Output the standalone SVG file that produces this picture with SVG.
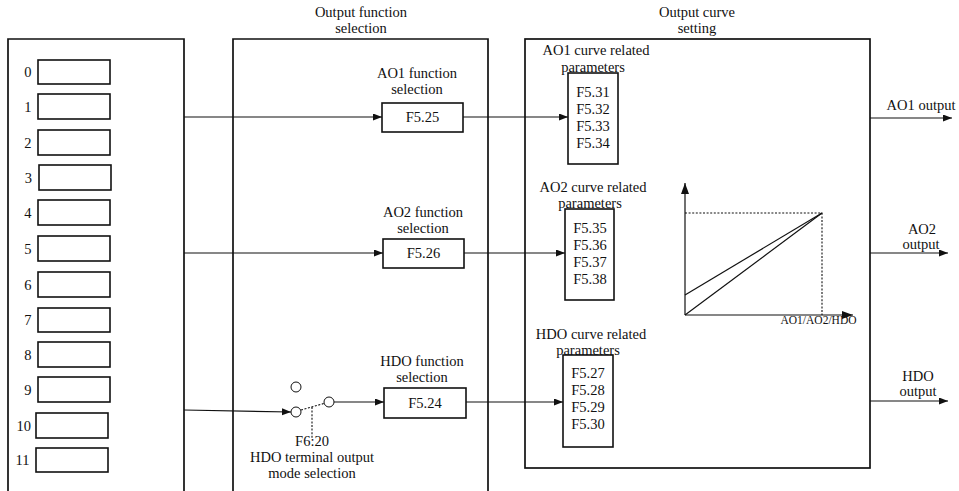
<svg xmlns="http://www.w3.org/2000/svg" width="959" height="491" viewBox="0 0 959 491" font-family="'Liberation Serif', 'DejaVu Serif', serif">
<defs>
<style>
text{font-family:'Liberation Serif','DejaVu Serif',serif;font-size:14.5px;fill:#111}
.c{text-anchor:middle}
.e{text-anchor:end}
.blk{fill:none;stroke:#111;stroke-width:1.7}
.box{fill:#fff;stroke:#111;stroke-width:1.6}
.ln{fill:none;stroke:#111;stroke-width:1.2}
.dot{fill:none;stroke:#111;stroke-width:1.1;stroke-dasharray:2 1.6}
.sw{fill:#fff;stroke:#111;stroke-width:1}
.sm{font-size:11.5px}
</style>
<marker id="ah" markerUnits="userSpaceOnUse" markerWidth="10" markerHeight="8" refX="9" refY="3.5" orient="auto">
<path d="M0,0 L9,3.5 L0,7 z" fill="#111"/>
</marker>
<marker id="ahb" markerUnits="userSpaceOnUse" markerWidth="12" markerHeight="9" refX="11" refY="4" orient="auto">
<path d="M0,0 L11,4 L0,8 z" fill="#111"/>
</marker>
</defs>
<rect width="959" height="491" fill="#fff"/>

<g id="headers">
<text class="c" x="361" y="17">Output function</text>
<text class="c" x="361" y="33">selection</text>
<text class="c" x="697" y="17">Output curve</text>
<text class="c" x="697" y="33">setting</text>
</g>

<g id="sources">
<path class="blk" d="M8,495 V39 H184 V495"/>
<rect class="box" x="38" y="60" width="72" height="24"/><text class="e" x="31.5" y="77">0</text>
<rect class="box" x="38" y="94" width="72" height="25"/><text class="e" x="31.5" y="111.5">1</text>
<rect class="box" x="38" y="130" width="72" height="25"/><text class="e" x="31.5" y="147.5">2</text>
<rect class="box" x="39" y="165" width="72" height="25"/><text class="e" x="32" y="182.5">3</text>
<rect class="box" x="38" y="200" width="72" height="25"/><text class="e" x="31.5" y="217.5">4</text>
<rect class="box" x="38" y="236" width="72" height="25"/><text class="e" x="31.5" y="253.5">5</text>
<rect class="box" x="38" y="272" width="72" height="25"/><text class="e" x="31.5" y="289.5">6</text>
<rect class="box" x="38" y="308" width="72" height="24"/><text class="e" x="31.5" y="325">7</text>
<rect class="box" x="38" y="342" width="72" height="25"/><text class="e" x="31.5" y="359.5">8</text>
<rect class="box" x="38" y="377" width="72" height="25"/><text class="e" x="31.5" y="394.5">9</text>
<rect class="box" x="36" y="413" width="72" height="25"/><text class="e" x="31" y="430.5">10</text>
<rect class="box" x="36" y="448" width="72" height="24"/><text class="e" x="29.5" y="465">11</text>
</g>

<g id="function-selection">
<path class="blk" d="M233,495 V39 H488 V495"/>
</g>

<g id="curve-setting">
<rect class="blk" x="525" y="39" width="345" height="429"/>
</g>

<g id="connectors">
<line class="ln" x1="184" y1="117" x2="382" y2="117" marker-end="url(#ah)"/>
<line class="ln" x1="463" y1="117" x2="568" y2="117" marker-end="url(#ah)"/>
<line class="ln" x1="184" y1="253" x2="383" y2="253" marker-end="url(#ah)"/>
<line class="ln" x1="464" y1="253" x2="565" y2="253" marker-end="url(#ah)"/>
<line class="ln" x1="184" y1="410" x2="291" y2="412" marker-end="url(#ah)"/>
<line class="ln" x1="334" y1="402" x2="384" y2="402" marker-end="url(#ah)"/>
<line class="ln" x1="466" y1="402" x2="563" y2="402" marker-end="url(#ah)"/>
<line class="ln" x1="870" y1="118" x2="952" y2="118" marker-end="url(#ah)"/>
<line class="ln" x1="870" y1="253" x2="948" y2="253" marker-end="url(#ah)"/>
<line class="ln" x1="870" y1="401" x2="948" y2="401" marker-end="url(#ah)"/>
</g>

<g id="ao1-func">
<text class="c" x="417" y="78">AO1 function</text>
<text class="c" x="417" y="94">selection</text>
<rect class="box" x="382" y="103" width="81" height="29"/>
<text class="c" x="422.5" y="122">F5.25</text>
</g>

<g id="ao2-func">
<text class="c" x="423" y="217">AO2 function</text>
<text class="c" x="423" y="233">selection</text>
<rect class="box" x="383" y="239" width="81" height="29"/>
<text class="c" x="423.5" y="258">F5.26</text>
</g>

<g id="hdo-func">
<text class="c" x="422" y="366">HDO function</text>
<text class="c" x="422" y="382">selection</text>
<rect class="box" x="384" y="388" width="82" height="30"/>
<text class="c" x="425" y="408">F5.24</text>
</g>

<g id="hdo-switch">
<circle class="sw" cx="296" cy="387" r="5"/>
<circle class="sw" cx="296" cy="412" r="5"/>
<circle class="sw" cx="329" cy="402" r="5"/>
<line class="dot" x1="301" y1="410" x2="324" y2="403.5"/>
<line class="dot" x1="312" y1="407" x2="312" y2="439"/>
<text class="c" x="312" y="446">F6:20</text>
<text class="c" x="312" y="462">HDO terminal output</text>
<text class="c" x="312" y="478">mode selection</text>
</g>

<g id="ao1-curve">
<text class="c" x="596" y="55">AO1 curve related</text>
<rect class="box" x="568" y="73" width="50" height="91"/>
<text class="c" x="593" y="72">parameters</text>
<text class="c" x="593" y="97">F5.31</text>
<text class="c" x="593" y="114">F5.32</text>
<text class="c" x="593" y="131">F5.33</text>
<text class="c" x="593" y="148">F5.34</text>
</g>

<g id="ao2-curve">
<text class="c" x="593" y="192">AO2 curve related</text>
<rect class="box" x="565" y="209" width="49" height="91"/>
<text class="c" x="590" y="208">parameters</text>
<text class="c" x="590" y="233">F5.35</text>
<text class="c" x="590" y="250">F5.36</text>
<text class="c" x="590" y="267">F5.37</text>
<text class="c" x="590" y="284">F5.38</text>
</g>

<g id="hdo-curve">
<text class="c" x="591" y="339">HDO curve related</text>
<rect class="box" x="563" y="355" width="50" height="92"/>
<text class="c" x="588" y="355">parameters</text>
<text class="c" x="588" y="378">F5.27</text>
<text class="c" x="588" y="395">F5.28</text>
<text class="c" x="588" y="412">F5.29</text>
<text class="c" x="588" y="429">F5.30</text>
</g>

<g id="curve-graph">
<line class="ln" x1="685" y1="315" x2="685" y2="183" marker-end="url(#ahb)"/>
<line class="ln" x1="685" y1="315" x2="853" y2="315" marker-end="url(#ahb)"/>
<polyline class="dot" points="685,213 822,213 822,315"/>
<line class="ln" x1="685" y1="315" x2="822" y2="213"/>
<line class="ln" x1="685" y1="295" x2="822" y2="213"/>
<text class="c sm" x="818.5" y="324">AO1/AO2/HDO</text>
</g>

<g id="outputs">
<text class="c" x="921" y="110">AO1 output</text>
<text class="c" x="922" y="234">AO2</text>
<text class="c" x="921" y="249">output</text>
<text class="c" x="918" y="381">HDO</text>
<text class="c" x="918" y="396">output</text>
</g>
</svg>
